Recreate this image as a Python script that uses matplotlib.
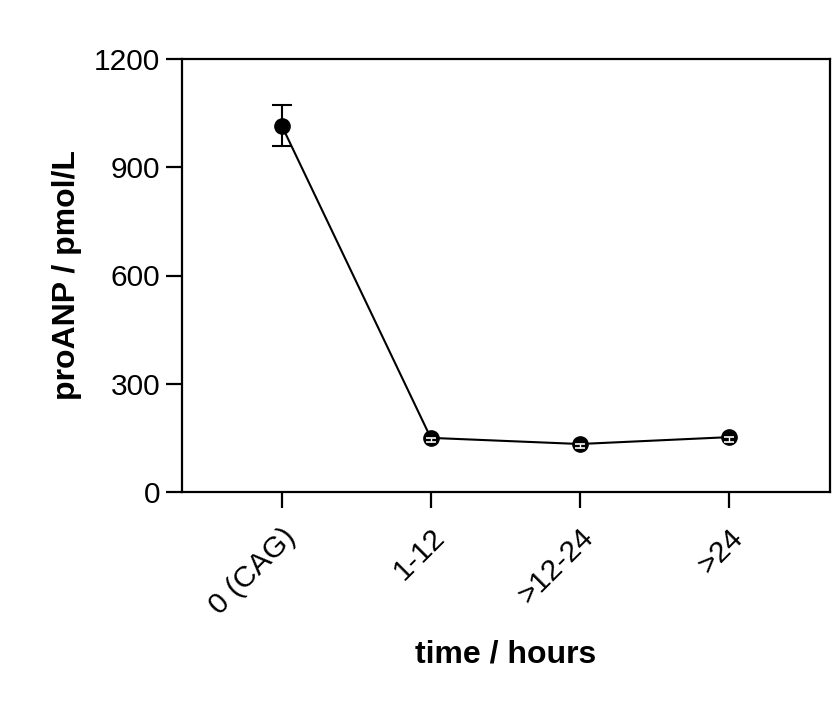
import matplotlib
matplotlib.use("Agg")
import matplotlib.pyplot as plt
import numpy as np

categories = ["0 (CAG)", "1-12", ">12-24", ">24"]
means = [1015, 150, 133, 152]
sem = [57, 12, 10, 14]
yticks = [0, 300, 600, 900, 1200]

plt.rcParams["font.family"] = ["Liberation Sans", "DejaVu Sans"]

fig = plt.figure(figsize=(8.33, 7.02), dpi=100)
ax = fig.add_axes([182 / 833, 1 - 492 / 702, (830 - 182) / 833, (492 - 59) / 702])

x = np.arange(len(categories))
big = [i for i in range(len(sem)) if sem[i] >= 30]
small = [i for i in range(len(sem)) if sem[i] < 30]

ax.errorbar([x[i] for i in big], [means[i] for i in big],
            yerr=[sem[i] for i in big], fmt="none", ecolor="black",
            elinewidth=1.5, capsize=7, capthick=1.5, zorder=2)
ax.plot(x, means, color="black", linewidth=1.5, marker="o", markersize=11,
        markerfacecolor="black", zorder=3)

# small error bars hidden inside the markers show up white
ax.errorbar([x[i] for i in small], [means[i] for i in small],
            yerr=[[sem[i] for i in small], [0 for i in small]], fmt="none",
            ecolor="white", elinewidth=1.0, capsize=3.5, capthick=1.2, zorder=4)

ax.set_xlim(-0.67, 3.68)
ax.set_ylim(0, 1200)
ax.set_yticks(yticks)
ax.set_xticks(x)
ax.set_xticklabels(categories, rotation=45, ha="right", va="top",
                   rotation_mode="anchor")

for s in ax.spines.values():
    s.set_linewidth(1.6)
ax.tick_params(axis="both", length=11.5, width=1.6, labelsize=21.5)
ax.tick_params(axis="x", pad=11)
ax.tick_params(axis="y", pad=4)

ax.set_ylabel("proANP / pmol/L", fontsize=23, fontweight="bold", labelpad=9)
ax.set_xlabel("time / hours", fontsize=23, fontweight="bold", labelpad=14)

fig.savefig("out.png", dpi=100)
